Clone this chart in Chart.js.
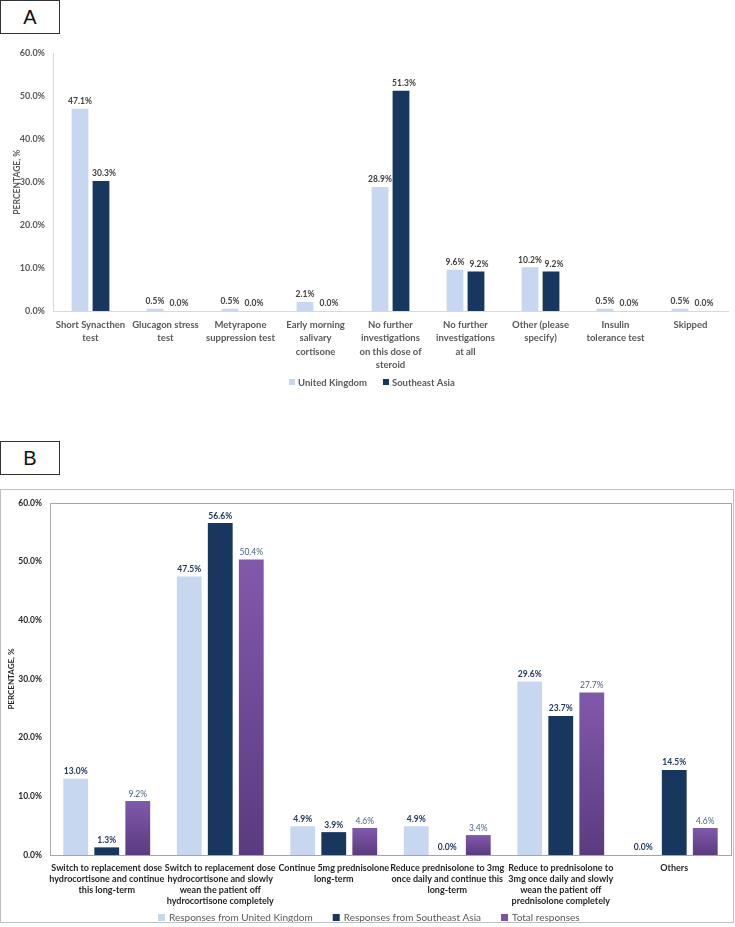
<!DOCTYPE html>
<html>
<head>
<meta charset="utf-8">
<script src="https://cdn.jsdelivr.net/npm/chart.js@4.4.0/dist/chart.umd.min.js"></script>
<style>
  body { margin: 0; background: #fff; font-family: Lato, sans-serif; }
  .tag { position: absolute; left: 0; width: 60px; height: 34px; border: 1px solid #333;
         box-sizing: border-box; font: 20px "Liberation Sans", Arial, sans-serif; text-align: center; line-height: 33px; color: #111; }
  #wrapA { position: absolute; left: 0; top: 40px; width: 735px; height: 356px; }
  #wrapB { position: absolute; left: 0; top: 489px; width: 734px; height: 434px; border: 1px solid #bfbfbf; box-sizing: border-box; }
</style>
</head>
<body>
<div class="tag" style="top:0">A</div>
<div id="wrapA"><canvas id="chartA"></canvas></div>
<div class="tag" style="top:441px">B</div>
<div id="wrapB"><canvas id="chartB"></canvas></div>
<script>
// panel A data
const labelsA = [
    ['Short Synacthen', 'test'],
    ['Glucagon stress', 'test'],
    ['Metyrapone', 'suppression test'],
    ['Early morning', 'salivary', 'cortisone'],
    ['No further', 'investigations', 'on this dose of', 'steroid'],
    ['No further', 'investigations', 'at all'],
    ['Other (please', 'specify)'],
    ['Insulin', 'tolerance test'],
    ['Skipped']
];
const ukA = [47.1, 0.5, 0.5, 2.1, 28.9, 9.6, 10.2, 0.5, 0.5];
const seaA = [30.3, 0.0, 0.0, 0.0, 51.3, 9.2, 9.2, 0.0, 0.0];

// panel B data
const labelsB = [
    ['Switch to replacement dose', 'hydrocortisone and continue', 'this long-term'],
    ['Switch to replacement dose', 'hydrocortisone and slowly', 'wean the patient off', 'hydrocortisone completely'],
    ['Continue 5mg prednisolone', 'long-term'],
    ['Reduce prednisolone to 3mg', 'once daily and continue this', 'long-term'],
    ['Reduce to prednisolone to', '3mg once daily and slowly', 'wean the patient off', 'prednisolone completely'],
    ['Others']
];
const ukB = [13.0, 47.5, 4.9, 4.9, 29.6, 0.0];
const seaB = [1.3, 56.6, 3.9, 0.0, 23.7, 14.5];
const totalB = [9.2, 50.4, 4.6, 3.4, 27.7, 4.6];

const yTicks = [0, 10, 20, 30, 40, 50, 60];

const LIGHT = '#c6d7ef';
const NAVY = '#17375e';
const PURPLE = '#7a55a3';

// draws value labels above each bar
const valueLabels = {
    id: 'valueLabels',
    afterDatasetsDraw(chart) {
        const ctx = chart.ctx;
        ctx.save();
        ctx.textAlign = 'center';
        ctx.textBaseline = 'bottom';
        chart.data.datasets.forEach((ds, i) => {
            const meta = chart.getDatasetMeta(i);
            const lab = ds.valueLabel;
            ctx.font = lab.font;
            ctx.fillStyle = lab.color;
            meta.data.forEach((bar, j) => {
                ctx.fillText(ds.data[j].toFixed(1) + '%', bar.x + (lab.dx || 0), bar.y - 3);
            });
        });
        ctx.restore();
    }
};

// box round the plot area (panel B)
const areaFrame = {
    id: 'areaFrame',
    beforeDatasetsDraw(chart, args, opts) {
        if (!opts.show) return;
        const a = chart.chartArea;
        const ctx = chart.ctx;
        ctx.save();
        ctx.strokeStyle = '#a6a6a6';
        ctx.lineWidth = 1;
        ctx.strokeRect(Math.round(a.left) + 0.5, Math.round(a.top) + 0.5, Math.round(a.right - a.left), Math.round(a.bottom - a.top));
        ctx.restore();
    }
};

// legend row drawn at a fixed height on the canvas
const bottomLegend = {
    id: 'bottomLegend',
    afterDraw(chart, args, o) {
        const ctx = chart.ctx;
        ctx.save();
        ctx.font = o.font;
        ctx.textBaseline = 'middle';
        ctx.textAlign = 'left';
        const items = chart.data.datasets.map(ds => ({ text: ds.label, color: ds.legendColor || ds.backgroundColor }));
        const widths = items.map(it => o.box + o.boxGap + ctx.measureText(it.text).width);
        const total = widths.reduce((a, b) => a + b, 0) + o.gap * (items.length - 1);
        let x = Math.round(chart.width / 2 - total / 2 + (o.dx || 0));
        items.forEach((it, i) => {
            ctx.fillStyle = it.color;
            ctx.fillRect(x, Math.round(o.y - o.box / 2), o.box, o.box);
            ctx.fillStyle = o.color;
            ctx.fillText(it.text, x + o.box + o.boxGap, o.y + 0.5);
            x += widths[i] + o.gap;
        });
        ctx.restore();
    }
};

function purpleFill(c) {
    const chart = c.chart;
    if (!chart.chartArea || c.raw === undefined) return PURPLE;
    const y = chart.scales.y;
    const top = y.getPixelForValue(c.raw);
    const bottom = y.getPixelForValue(0);
    if (bottom - top < 1) return PURPLE;
    const g = chart.ctx.createLinearGradient(0, top, 0, bottom);
    g.addColorStop(0, '#8159ab');
    g.addColorStop(1, '#5b3b7f');
    return g;
}

new Chart(document.getElementById('chartA'), {
    type: 'bar',
    data: {
        labels: labelsA,
        datasets: [
            { label: 'United Kingdom', data: ukA, backgroundColor: LIGHT,
              categoryPercentage: 0.56, barPercentage: 0.8,
              valueLabel: { font: 'bold 8.5px Lato', color: '#404040' } },
            { label: 'Southeast Asia', data: seaA, backgroundColor: NAVY,
              categoryPercentage: 0.56, barPercentage: 0.8,
              valueLabel: { font: 'bold 8.5px Lato', color: '#404040', dx: 3 } }
        ]
    },
    options: {
        responsive: true,
        maintainAspectRatio: false,
        animation: false,
        layout: { padding: { top: 13, right: 7, left: 0, bottom: 23 } },
        plugins: {
            legend: { display: false },
            tooltip: { enabled: false },
            areaFrame: { show: false },
            bottomLegend: { y: 342, font: 'bold 9.5px Lato', color: '#595959', box: 6, boxGap: 3, gap: 16, dx: 4 }
        },
        scales: {
            x: {
                afterFit: s => { s.height = 62; },
                grid: { display: false, drawTicks: false },
                border: { color: '#d9d9d9' },
                ticks: { color: '#595959', maxRotation: 0, autoSkip: false, padding: 7,
                         font: { family: 'Lato', size: 9.5, weight: 'bold', lineHeight: 1.42 } }
            },
            y: {
                min: 0, max: 60,
                afterBuildTicks: s => { s.ticks = yTicks.map(v => ({ value: v })); },
                afterFit: s => { s.width = 53; },
                grid: { display: false, drawTicks: false },
                border: { color: '#d9d9d9' },
                title: { display: true, text: 'PERCENTAGE, %', color: '#595959', padding: { top: 12, bottom: 0 },
                         font: { family: 'Lato', size: 8.5, weight: 'bold' } },
                ticks: { color: '#595959', padding: 8, callback: v => v.toFixed(1) + '%',
                         font: { family: 'Lato', size: 9, weight: 'bold' } }
            }
        }
    },
    plugins: [valueLabels, areaFrame, bottomLegend]
});

const labelDark = { font: 'bold 8.5px Lato', color: '#1f3864' };
new Chart(document.getElementById('chartB'), {
    type: 'bar',
    data: {
        labels: labelsB,
        datasets: [
            { label: 'Responses from United Kingdom', data: ukB, backgroundColor: LIGHT,
              categoryPercentage: 0.82, barPercentage: 0.8, valueLabel: labelDark },
            { label: 'Responses from Southeast Asia', data: seaB, backgroundColor: NAVY,
              categoryPercentage: 0.82, barPercentage: 0.8, valueLabel: labelDark },
            { label: 'Total responses', data: totalB, backgroundColor: purpleFill, legendColor: PURPLE,
              categoryPercentage: 0.82, barPercentage: 0.8,
              valueLabel: { font: '8.5px Lato', color: '#4a5f80' } }
        ]
    },
    options: {
        responsive: true,
        maintainAspectRatio: false,
        animation: false,
        layout: { padding: { top: 7, right: 2, left: 0, bottom: 11 } },
        plugins: {
            legend: { display: false },
            tooltip: { enabled: false },
            areaFrame: { show: true },
            bottomLegend: { y: 427, font: '10px Lato', color: '#595959', box: 7, boxGap: 4, gap: 20, dx: 2 }
        },
        scales: {
            x: {
                afterFit: s => { s.height = 56; },
                grid: { display: false, drawTicks: false },
                border: { color: '#a6a6a6' },
                ticks: { color: '#262626', maxRotation: 0, autoSkip: false, padding: 7,
                         font: { family: 'Lato', size: 9, weight: 'bold', lineHeight: 1.25 } }
            },
            y: {
                min: 0, max: 60,
                afterBuildTicks: s => { s.ticks = yTicks.map(v => ({ value: v })); },
                afterFit: s => { s.width = 49; },
                grid: { display: false, drawTicks: false },
                border: { color: '#a6a6a6' },
                title: { display: true, text: 'PERCENTAGE, %', color: '#262626', padding: { top: 6, bottom: 0 },
                         font: { family: 'Lato', size: 8, weight: 'bold' } },
                ticks: { color: '#262626', padding: 8, callback: v => v.toFixed(1) + '%',
                         font: { family: 'Lato', size: 8.5, weight: 'bold' } }
            }
        }
    },
    plugins: [valueLabels, areaFrame, bottomLegend]
});
</script>
</body>
</html>
